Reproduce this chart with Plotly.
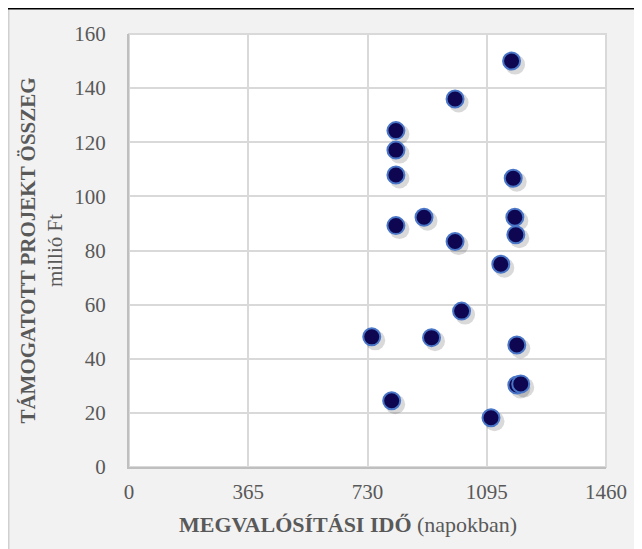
import plotly.graph_objects as go

# Data (days, million Ft)
days = [1171, 998, 817, 817, 817, 1176, 817, 903, 998, 1181, 1184, 1138,
        1018, 743, 926, 1187, 1187, 1199, 804, 1108]
amount = [150, 136, 124.3, 117.1, 107.9, 106.7, 89.2, 92.3, 83.3, 92.3, 85.8, 74.9,
          57.6, 48.1, 47.8, 45.1, 30.3, 30.7, 24.5, 18.2]
x_ticks = [0, 365, 730, 1095, 1460]
y_ticks = [0, 20, 40, 60, 80, 100, 120, 140, 160]

W, H = 642, 549
L, R, T, B = 121, 44, 26, 90
pw, ph = W - L - R, H - T - B
XMAX, YMAX = 1460, 160

def px2paper_x(px):
    return (px - L) / pw

def px2paper_y(py):
    return (H - B - py) / ph

# shadow offset (a few pixels right/down), converted to data units
sdx = 3.5 / pw * XMAX
sdy = 3.5 / ph * YMAX

FF = "Liberation Serif"
grey = "#595959"

fig = go.Figure()
fig.add_trace(go.Scatter(
    x=[d + sdx for d in days], y=[a - sdy for a in amount], mode="markers",
    marker=dict(size=20, color="rgba(0,0,0,0.15)", line=dict(width=0)),
    hoverinfo="skip", showlegend=False))
fig.add_trace(go.Scatter(
    x=days, y=amount, mode="markers",
    marker=dict(size=17, color="#0e0650", line=dict(width=2, color="#4a76c8")),
    showlegend=False))

shapes = [
    # left border of grey panel
    dict(type="line", xref="paper", yref="paper",
         x0=px2paper_x(0.5), x1=px2paper_x(0.5), y0=px2paper_y(H), y1=px2paper_y(0),
         line=dict(color="#d0d0d0", width=2)),
    # white plot area
    dict(type="rect", xref="paper", yref="paper", layer="below",
         x0=0, x1=1, y0=0, y1=1, fillcolor="white", line=dict(color="#d9d9d9", width=2)),
    # black rule at top
    dict(type="line", xref="paper", yref="paper",
         x0=px2paper_x(-10), x1=px2paper_x(W + 10), y0=px2paper_y(0.5), y1=px2paper_y(0.5),
         line=dict(color="black", width=2)),
]

annotations = [
    dict(text="<b>MEGVALÓSÍTÁSI IDŐ</b> (napokban)", xref="paper", yref="paper",
         x=px2paper_x(340), y=px2paper_y(516), xanchor="center", yanchor="middle",
         showarrow=False, font=dict(family=FF, size=22, color=grey)),
]

fig.update_layout(
    width=W, height=H,
    margin=dict(l=L, r=R, t=T, b=B),
    paper_bgcolor="#f2f2f2", plot_bgcolor="rgba(0,0,0,0)",
    font=dict(family=FF, color=grey, size=21),
    shapes=shapes, annotations=annotations,
    xaxis=dict(range=[0, XMAX], tickvals=x_ticks, ticktext=[str(v) for v in x_ticks],
               showgrid=True, gridcolor="#d9d9d9", gridwidth=2,
               showline=True, linecolor="#bfbfbf", linewidth=2,
               zeroline=False, ticks="", ticklabelstandoff=5,
               tickfont=dict(family=FF, size=21, color=grey)),
    yaxis=dict(range=[0, YMAX], tickvals=y_ticks, ticktext=[str(v) for v in y_ticks],
               showgrid=True, gridcolor="#d9d9d9", gridwidth=2,
               showline=True, linecolor="#bfbfbf", linewidth=2,
               zeroline=False, ticks="", ticklabelstandoff=17,
               tickfont=dict(family=FF, size=21, color=grey),
               title=dict(text="<b>TÁMOGATOTT PROJEKT ÖSSZEG</b><br>millió Ft",
                          font=dict(family=FF, size=21, color=grey), standoff=6)),
)

fig.write_html("out.html")
